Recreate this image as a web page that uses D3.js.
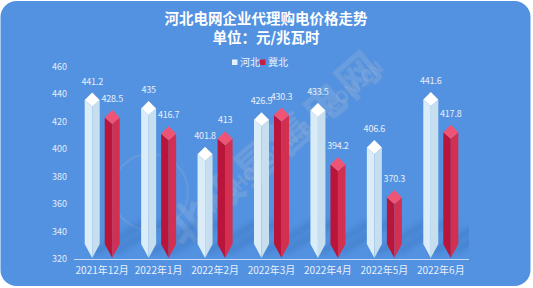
<!DOCTYPE html>
<html><head><meta charset="utf-8">
<script src="https://cdn.jsdelivr.net/npm/d3@7/dist/d3.min.js"></script>
<style>
html,body{margin:0;padding:0;background:#fff;}
svg{display:block;}
text{font-family:"Noto Sans CJK SC","Noto Sans",sans-serif;}
</style></head>
<body>
<svg id="c" width="533" height="288"></svg>
<script>
const categories = ["2021年12月","2022年1月","2022年2月","2022年3月","2022年4月","2022年5月","2022年6月"];
const seriesNames = ["河北","冀北"];
const hebei = [441.2, 435, 401.8, 426.9, 433.5, 406.6, 441.6];
const jibei = [428.5, 416.7, 413, 430.3, 394.2, 370.3, 417.8];
const yTicks = [320, 340, 360, 380, 400, 420, 440, 460];
const titleText = "河北电网企业代理购电价格走势";
const subTitleText = "单位：元/兆瓦时";

const svg = d3.select("#c");
const plot = {left: 74, right: 469, top: 66.7, bottom: 259};

const defs = svg.append("defs");
defs.append("filter").attr("id","blur").attr("x","-50%").attr("y","-50%").attr("width","200%").attr("height","200%")
  .append("feGaussianBlur").attr("stdDeviation", 3);
defs.append("clipPath").attr("id","pclip").append("rect")
  .attr("x", plot.left).attr("y", plot.top).attr("width", plot.right-plot.left).attr("height", plot.bottom-plot.top);

// background card
svg.append("rect").attr("x",0.5).attr("y",1).attr("width",530).attr("height",285).attr("rx",16).attr("ry",16)
  .attr("fill","#5392e1");

// titles
svg.append("text").attr("x",266).attr("y",23.5).attr("text-anchor","middle").attr("fill","#fff")
  .attr("font-size",14.5).attr("font-weight","bold").text(titleText);
svg.append("text").attr("x",266).attr("y",42.5).attr("text-anchor","middle").attr("fill","#fff")
  .attr("font-size",14.5).attr("font-weight","bold").text(subTitleText);

// scales
const x = d3.scaleBand().domain(categories).range([plot.left, plot.right]);
const xs = d3.scaleBand().domain(seriesNames).range([-20, 20]).paddingInner(0.25).paddingOuter(0.125);
const y = d3.scaleLinear().domain([320, 460]).range([plot.bottom, plot.top]);

const data = categories.map((c,i)=>({cat:c, vals:[{s:"河北",v:hebei[i]},{s:"冀北",v:jibei[i]}]}));
const colors = {
  "河北": {top:"#ffffff", left:"#d9ecf8", right:"#c6deee", label:"#e6eef9"},
  "冀北": {top:"#ef5474", left:"#b9153a", right:"#d22f51", label:"#e6eef9"}
};

// watermark
const wm = svg.append("g").attr("opacity",0.5);
wm.append("circle").attr("cx",150).attr("cy",192).attr("r",38).attr("fill","none")
  .attr("stroke","rgba(170,180,200,0.45)").attr("stroke-width",2);
wm.append("text").attr("transform","translate(272,145) rotate(-41)").attr("text-anchor","middle")
  .attr("dominant-baseline","central").attr("font-size",42).attr("font-weight","bold")
  .attr("fill","rgba(200,212,230,0.35)").attr("stroke","rgba(150,160,180,0.45)").attr("stroke-width",1.2)
  .attr("letter-spacing",3).text("北极星售电网");
wm.append("text").attr("transform","translate(303,128) rotate(-40)").attr("text-anchor","middle")
  .attr("dominant-baseline","central").attr("font-size",17).attr("font-weight","bold")
  .attr("fill","rgba(200,212,230,0.35)").attr("stroke","rgba(150,160,180,0.45)").attr("stroke-width",0.8)
  .attr("font-family","'DejaVu Sans',sans-serif")
  .text("SHOUDIAN.BJX.COM.CN");

// shadows
const sh = svg.append("g").attr("clip-path","url(#pclip)");
data.forEach(d=>{
  d.vals.forEach(e=>{
    const c = x(d.cat) + x.bandwidth()/2 + xs(e.s) + xs.bandwidth()/2;
    const yb = y(320);
    sh.append("path")
      .attr("d", d3.line()([[c-2, yb-6],[c+6, yb-6],[c+62, yb-40],[c+54, yb-40]]) + "Z")
      .attr("fill","#1f4d8f").attr("opacity",0.35).attr("filter","url(#blur)");
  });
});

// y axis labels
svg.append("g").selectAll("text").data(yTicks).join("text")
  .attr("x",67).attr("y",d=>y(d)).attr("dy","0.35em").attr("text-anchor","end")
  .attr("fill","#e3ecf8").attr("font-size",9).text(d=>d);

// x axis line
svg.append("line").attr("x1",plot.left).attr("x2",plot.right).attr("y1",y(320)+0.5).attr("y2",y(320)+0.5)
  .attr("stroke","#c9dcf3").attr("stroke-width",1.2);

// x labels
svg.append("g").selectAll("text").data(categories).join("text")
  .attr("x",d=>x(d)+x.bandwidth()/2).attr("y",270).attr("dy","0.35em").attr("text-anchor","middle")
  .attr("fill","#e8f0fb").attr("font-size",10).text(d=>d);

// bars
const w = xs.bandwidth()/2;
const g = svg.append("g");
data.forEach(d=>{
  d.vals.forEach(e=>{
    const c = x(d.cat) + x.bandwidth()/2 + xs(e.s) + xs.bandwidth()/2;
    const yt = y(e.v), yb = y(320) - 1;
    const col = colors[e.s];
    const line = d3.line();
    g.append("path").attr("d", line([[c-w,yt+7.5],[c,yt+14],[c,yb],[c-w,yb-14]])+"Z").attr("fill",col.left);
    g.append("path").attr("d", line([[c,yt+14],[c+w,yt+7.5],[c+w,yb-14],[c,yb]])+"Z").attr("fill",col.right);
    g.append("path").attr("d", line([[c,yt],[c+w,yt+7.5],[c,yt+14],[c-w,yt+7.5]])+"Z").attr("fill",col.top);
    g.append("text").attr("x",c).attr("y",yt-11).attr("dy","0.35em").attr("text-anchor","middle")
      .attr("fill",col.label).attr("font-size",9).attr("letter-spacing",-0.2).text(e.v);
  });
});

// legend
const lg = svg.append("g");
const legendItems = [{s:"河北",x:232},{s:"冀北",x:260}];
legendItems.forEach(it=>{
  lg.append("rect").attr("x",it.x).attr("y",59.5).attr("width",5.5).attr("height",5.5)
    .attr("fill", it.s==="河北" ? "#e4f0fa" : "#c81c40");
  lg.append("text").attr("x",it.x+8).attr("y",62.3).attr("dy","0.35em").attr("fill","#eef4fc")
    .attr("font-size",10).text(it.s);
});
</script>
</body></html>
